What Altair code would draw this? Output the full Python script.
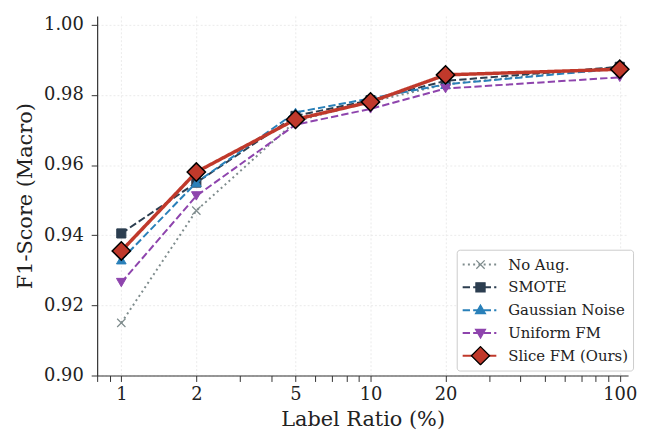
import altair as alt
import pandas as pd

# ---------------- data ----------------
ratios = [1, 2, 5, 10, 20, 100]
series_names = ["No Aug.", "SMOTE", "Gaussian Noise", "Uniform FM", "Slice FM (Ours)"]
no_aug = [0.915, 0.947, 0.9725, 0.978, 0.983, 0.988]
smote = [0.9405, 0.955, 0.974, 0.9785, 0.984, 0.988]
gaussian = [0.933, 0.955, 0.975, 0.979, 0.983, 0.9875]
uniform_fm = [0.9265, 0.9512, 0.9715, 0.976, 0.9818, 0.985]
slice_fm = [0.9355, 0.958, 0.973, 0.978, 0.9857, 0.9873]
series_values = [no_aug, smote, gaussian, uniform_fm, slice_fm]

y_ticks = [0.90, 0.92, 0.94, 0.96, 0.98, 1.00]
x_major = [1, 2, 5, 10, 20, 100]
x_all_ticks = [0.8, 0.9, 1, 2, 3, 4, 5, 6, 7, 8, 9, 10, 20, 30, 40, 50, 60, 70, 80, 90, 100]

# ---------------- styles ----------------
line_colors = ["#7f8c8d", "#2c3e50", "#2980b9", "#8e44ad", "#c0392b"]
edge_colors = ["#7f8c8d", "#2c3e50", "#2980b9", "#8e44ad", "#000000"]
dashes = [[2, 3.3], [7.4, 3.2], [7.4, 3.2], [7.4, 3.2], [1, 0]]
line_widths = [2, 2, 2, 2, 3.5]
X_PATH = "M-1,-1L1,1M-1,1L1,-1"
marker_shapes = [X_PATH, "square", "triangle-up", "triangle-down", "diamond"]
marker_sizes = [70, 85, 95, 95, 340]
marker_edge = [1.2, 1, 1, 1, 1.5]
# legend marker glyphs (drawn at symbolSize 400, i.e. 1 unit = 10 px)
legend_marker_paths = [
    "M-0.42,-0.42L0.42,0.42M-0.42,0.42L0.42,-0.42",
    "M-0.46,-0.46H0.46V0.46H-0.46Z",
    "M0,-0.52L0.5,0.36L-0.5,0.36Z",
    "M0,0.52L0.5,-0.36L-0.5,-0.36Z",
    "M0,-0.92L0.92,0L0,0.92L-0.92,0Z",
]

FONT = "DejaVu Serif"

rows = []
for name, vals in zip(series_names, series_values):
    for r, v in zip(ratios, vals):
        rows.append({"series": name, "ratio": r, "f1": v})
df = pd.DataFrame(rows)

major_test = "indexof([1,2,5,10,20,100], datum.value) >= 0"

x_axis = alt.Axis(
    values=x_all_ticks,
    labelExpr="indexof([1,2,5,10,20,100], datum.value) >= 0 ? format(datum.value, 'd') : ''",
    tickSize=6,
    labelPadding=4,
    labelFontSize=18,
    titleFontSize=21,
    titlePadding=5,
    grid=True,
    gridOpacity={"condition": {"test": major_test, "value": 1}, "value": 0},
)
y_axis = alt.Axis(
    values=y_ticks,
    format=".2f",
    tickSize=6,
    labelPadding=8,
    labelFontSize=18,
    titleFontSize=21,
    titlePadding=8,
    grid=True,
)
x_scale = alt.Scale(type="log", domain=[0.8, 108], nice=False)
y_scale = alt.Scale(domain=[0.9, 1.0025], nice=False, zero=False)

X = alt.X("ratio:Q", scale=x_scale, axis=x_axis, title="Label Ratio (%)")
Y = alt.Y("f1:Q", scale=y_scale, axis=y_axis, title="F1-Score (Macro)")

layers = []
for i, name in enumerate(series_names):
    base = alt.Chart(df).transform_filter(alt.datum.series == name)
    line = base.mark_line(
        color=line_colors[i], strokeDash=dashes[i], strokeWidth=line_widths[i]
    ).encode(x=X, y=Y)
    pts = base.mark_point(
        shape=marker_shapes[i], filled=True, fill=line_colors[i], stroke=edge_colors[i],
        strokeWidth=marker_edge[i], size=marker_sizes[i], opacity=1,
    ).encode(x=X, y=Y)
    layers += [line, pts]

# legend: line symbols + labels (A), marker symbols overlaid (B)
marker_keys = ["marker:" + n for n in series_names]
LX, LY = 363, 236
common_leg = dict(
    orient="none", title=None, labelFont=FONT, labelFontSize=15, padding=5,
    clipHeight=20, rowPadding=3,
)
legA = alt.Legend(
    legendX=LX, legendY=LY, symbolType="stroke", symbolSize=1156, labelOffset=11,
    strokeColor="#cccccc", fillColor="#ffffff", cornerRadius=3, labelColor="#222222",
    **common_leg,
)
legB = alt.Legend(
    legendX=LX + 8, legendY=LY, labelExpr="''", symbolStrokeWidth=1.3, symbolOpacity=1,
    symbolSize=400, **common_leg,
)

legend_lines = alt.Chart(df).transform_filter("false").mark_line().encode(
    x=X, y=Y,
    color=alt.Color("series:N", scale=alt.Scale(domain=series_names, range=line_colors), legend=legA),
    strokeDash=alt.StrokeDash("series:N", scale=alt.Scale(domain=series_names, range=dashes), legend=legA),
    strokeWidth=alt.StrokeWidth("series:N", scale=alt.Scale(domain=series_names, range=line_widths), legend=legA),
)
legend_marks = alt.Chart(df).transform_filter("false").transform_calculate(
    series_m="'marker:' + datum.series"
).mark_point(filled=True, strokeWidth=1.3).encode(
    x=X, y=Y,
    fill=alt.Fill("series_m:N", scale=alt.Scale(domain=marker_keys, range=line_colors), legend=legB),
    stroke=alt.Stroke("series_m:N", scale=alt.Scale(domain=marker_keys, range=edge_colors), legend=legB),
    shape=alt.Shape("series_m:N", scale=alt.Scale(domain=marker_keys, range=legend_marker_paths), legend=legB),
)

chart = alt.layer(*layers, legend_lines, legend_marks).properties(
    width=536, height=363,
    padding={"left": 6, "top": 5, "right": 0, "bottom": 0},
).configure(font=FONT).configure_view(stroke=None).configure_axis(
    domainColor="#333333", domainWidth=1.2, tickColor="#333333", tickWidth=1,
    labelColor="#222222", titleColor="#222222", labelFont=FONT, titleFont=FONT,
    titleFontWeight="normal", gridColor="#e6e6e6", gridDash=[2, 2], gridWidth=0.8,
)

chart.save("out.html", embed_options={"renderer": "svg", "actions": False})
